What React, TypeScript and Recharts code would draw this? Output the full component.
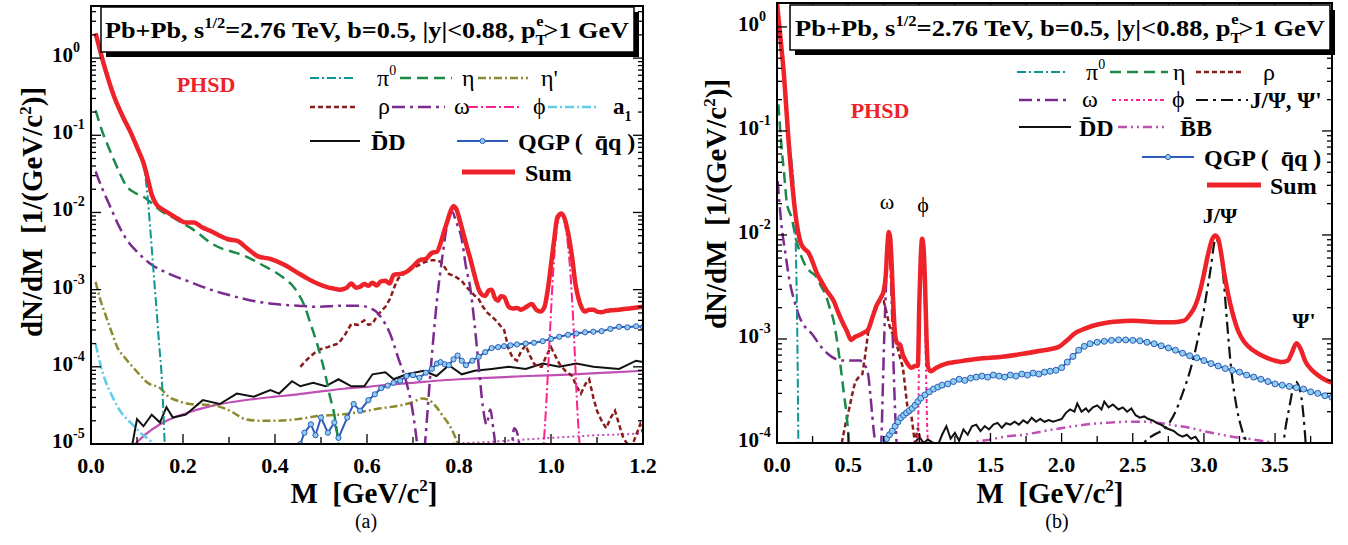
import { LineChart, Line, XAxis, YAxis } from 'recharts';

// ---------- panel (a): 0 - 1.2 GeV ----------
const sumA = [[0.01,2.1],[0.03,0.75],[0.05,0.32],[0.07,0.17],[0.086,0.11],[0.1,0.07],[0.114,0.044],[0.125,0.025],[0.132,0.017],[0.141,0.013],[0.155,0.011],[0.169,0.0098],[0.19,0.0082],[0.206,0.0074],[0.224,0.0074],[0.24,0.0065],[0.261,0.0057],[0.28,0.005],[0.298,0.0045],[0.317,0.0043],[0.34,0.0034],[0.363,0.0027],[0.39,0.0025],[0.42,0.0021],[0.446,0.0017],[0.47,0.0014],[0.492,0.0012],[0.515,0.00107],[0.529,0.00103],[0.54,0.001],[0.555,0.00105],[0.566,0.0012],[0.576,0.00106],[0.585,0.00109],[0.594,0.00118],[0.603,0.00112],[0.612,0.00123],[0.621,0.00113],[0.63,0.00128],[0.64,0.0013],[0.649,0.0012],[0.658,0.00155],[0.672,0.0016],[0.686,0.0017],[0.7,0.002],[0.714,0.0024],[0.728,0.0025],[0.741,0.003],[0.752,0.0031],[0.76,0.004],[0.768,0.0058],[0.775,0.0078],[0.782,0.0105],[0.788,0.012],[0.795,0.0108],[0.802,0.0078],[0.81,0.0052],[0.817,0.0036],[0.824,0.0026],[0.833,0.0016],[0.843,0.001],[0.851,0.00085],[0.857,0.00083],[0.865,0.00098],[0.871,0.001],[0.878,0.00078],[0.885,0.00072],[0.891,0.00082],[0.898,0.0008],[0.908,0.0006],[0.917,0.00057],[0.926,0.00058],[0.935,0.00055],[0.947,0.0006],[0.958,0.00065],[0.968,0.00055],[0.977,0.00052],[0.986,0.0006],[0.993,0.001],[1.0,0.0021],[1.007,0.0045],[1.014,0.0087],[1.023,0.0097],[1.03,0.0082],[1.037,0.0055],[1.046,0.0026],[1.053,0.0012],[1.06,0.00076],[1.067,0.00058],[1.074,0.00052],[1.083,0.00055],[1.092,0.00055],[1.1,0.00052],[1.11,0.00051],[1.12,0.00053],[1.13,0.00054],[1.148,0.00055],[1.17,0.00057],[1.2,0.0006]];
const pi0A = [[0.01,2.0],[0.03,0.7],[0.05,0.3],[0.07,0.16],[0.09,0.095],[0.105,0.06],[0.118,0.03],[0.124,0.014],[0.13,0.005],[0.136,0.0017],[0.142,0.0006],[0.148,0.0002],[0.154,7e-5],[0.159,1.5e-5],[0.162,5e-6]];
const etaA = [[0.01,0.21],[0.025,0.11],[0.04,0.066],[0.06,0.035],[0.077,0.022],[0.095,0.018],[0.114,0.016],[0.13,0.0135],[0.15,0.0107],[0.175,0.0088],[0.197,0.0074],[0.215,0.0064],[0.24,0.005],[0.261,0.004],[0.285,0.0034],[0.307,0.0031],[0.33,0.0028],[0.354,0.0024],[0.378,0.002],[0.4,0.0017],[0.42,0.0014],[0.437,0.00115],[0.45,0.0009],[0.464,0.00062],[0.478,0.00035],[0.492,0.000195],[0.51,7.6e-5],[0.52,4e-5],[0.529,2.4e-5],[0.538,1e-5],[0.545,4e-6]];
const etaPrimeA = [[0.01,0.00126],[0.02,0.00075],[0.03,0.0005],[0.045,0.00028],[0.058,0.000175],[0.072,0.000135],[0.086,0.000107],[0.105,8e-5],[0.123,6.2e-5],[0.15,5.3e-5],[0.169,4.1e-5],[0.19,3.6e-5],[0.215,3.3e-5],[0.261,3.2e-5],[0.29,2.9e-5],[0.307,2.6e-5],[0.335,2.1e-5],[0.37,2e-5],[0.4,2e-5],[0.45,2.1e-5],[0.492,2.3e-5],[0.54,2.4e-5],[0.585,2.6e-5],[0.63,2.9e-5],[0.677,3.2e-5],[0.7,3.5e-5],[0.72,3.9e-5],[0.735,3.7e-5],[0.751,3e-5],[0.765,2.3e-5],[0.778,1.8e-5],[0.79,1.3e-5],[0.797,1e-5],[0.805,6e-6]];
const rhoA = [[0.455,1e-4],[0.47,1.25e-4],[0.485,1.5e-4],[0.5,1.7e-4],[0.515,1.8e-4],[0.525,1.9e-4],[0.538,2e-4],[0.552,2.6e-4],[0.566,3.6e-4],[0.58,3.5e-4],[0.594,4e-4],[0.603,3.5e-4],[0.612,3.6e-4],[0.621,4.5e-4],[0.63,5.2e-4],[0.64,6e-4],[0.65,7.6e-4],[0.66,0.0011],[0.668,0.0014],[0.686,0.0017],[0.7,0.0019],[0.714,0.0021],[0.728,0.0023],[0.741,0.0024],[0.75,0.0024],[0.76,0.0023],[0.77,0.0019],[0.778,0.0016],[0.79,0.0015],[0.806,0.0013],[0.815,0.0011],[0.824,0.00097],[0.833,0.00085],[0.843,0.00075],[0.852,0.0006],[0.862,0.0005],[0.871,0.00045],[0.88,0.0004],[0.89,0.00034],[0.898,0.0003],[0.908,0.00017],[0.917,0.00013],[0.926,0.00012],[0.935,0.00016],[0.945,0.00019],[0.954,0.00014],[0.963,0.00011],[0.972,0.0001],[0.98,0.0001],[0.99,0.00014],[1.0,0.00018],[1.009,0.00014],[1.018,0.00011],[1.03,9e-5],[1.046,7.6e-5],[1.056,5.5e-5],[1.065,4.5e-5],[1.075,6e-5],[1.083,6.9e-5],[1.092,4e-5],[1.1,2.7e-5],[1.11,2e-5],[1.12,1.6e-5],[1.13,2.2e-5],[1.139,2.7e-5],[1.148,1.8e-5],[1.157,1.2e-5],[1.166,1e-5],[1.175,9e-6],[1.185,1.3e-5],[1.194,1.8e-5],[1.2,1.4e-5]];
const omegaContA = [[0.01,0.034],[0.025,0.02],[0.04,0.0126],[0.06,0.0068],[0.077,0.0045],[0.1,0.0031],[0.132,0.0021],[0.17,0.0016],[0.215,0.00126],[0.26,0.001],[0.307,0.00083],[0.35,0.00072],[0.4,0.00065],[0.45,0.00062],[0.492,0.0006],[0.54,0.00062],[0.585,0.00062],[0.605,0.00058],[0.62,0.00052],[0.635,0.0004],[0.65,0.00027],[0.668,0.00013],[0.686,6.2e-5],[0.7,2.5e-5],[0.709,1e-5],[0.716,4e-6]];
const omegaPeakA = [[0.72,4e-6],[0.726,1e-5],[0.739,1e-4],[0.752,7.2e-4],[0.765,0.003],[0.776,0.0078],[0.785,0.0102],[0.794,0.0075],[0.806,0.0045],[0.815,0.002],[0.824,0.0011],[0.834,3.5e-4],[0.843,1e-4],[0.852,3e-5],[0.86,1.8e-5],[0.868,2.8e-5],[0.875,1.5e-5],[0.885,6e-6],[0.91,5e-6],[0.92,1.6e-5],[0.928,1.3e-5],[0.935,5e-6]];
const phiA = [[0.975,4e-6],[0.984,1e-5],[0.992,6e-5],[0.998,3e-4],[1.005,0.0018],[1.011,0.005],[1.017,0.0085],[1.023,0.0095],[1.029,0.0078],[1.036,0.0042],[1.043,0.0014],[1.05,2.5e-4],[1.056,4e-5],[1.062,1e-5],[1.068,4e-6]];
const a1A = [[0.01,2e-4],[0.02,1.1e-4],[0.03,6.9e-5],[0.045,4.3e-5],[0.063,2.7e-5],[0.075,2.2e-5],[0.09,1.8e-5],[0.11,1.35e-5],[0.132,1.05e-5],[0.145,8e-6]];
const ddA = [[0.09,1e-5],[0.1,2.1e-5],[0.114,1.7e-5],[0.132,2.4e-5],[0.15,1.9e-5],[0.164,3e-5],[0.178,2.2e-5],[0.206,2.4e-5],[0.243,3.7e-5],[0.28,3.3e-5],[0.317,4.5e-5],[0.354,4.1e-5],[0.39,5e-5],[0.409,4.5e-5],[0.437,6.5e-5],[0.455,5.6e-5],[0.483,6.2e-5],[0.51,5.6e-5],[0.538,6.9e-5],[0.566,5.6e-5],[0.594,5.6e-5],[0.612,8e-5],[0.64,8.5e-5],[0.658,6.9e-5],[0.686,8e-5],[0.723,8.9e-5],[0.751,7.6e-5],[0.778,1.05e-4],[0.806,8e-5],[0.834,8.9e-5],[0.871,9.4e-5],[0.908,1e-4],[0.945,9.4e-5],[0.982,1.1e-4],[1.018,1e-4],[1.055,1.1e-4],[1.092,1e-4],[1.148,9.4e-5],[1.185,1.2e-4],[1.2,1.15e-4]];
const qgpA = [[0.455,1e-5],[0.464,1.4e-5],[0.478,1.8e-5],[0.488,1.3e-5],[0.5,2.2e-5],[0.515,1.4e-5],[0.529,1.9e-5],[0.538,1.2e-5],[0.557,2.2e-5],[0.571,3.3e-5],[0.585,2.7e-5],[0.603,3.7e-5],[0.617,4.4e-5],[0.631,5.3e-5],[0.645,5.7e-5],[0.658,6.2e-5],[0.672,6.6e-5],[0.686,7.6e-5],[0.7,7.8e-5],[0.714,7.2e-5],[0.728,8.4e-5],[0.741,9.4e-5],[0.752,1.1e-4],[0.76,1.15e-4],[0.769,1.08e-4],[0.778,1.05e-4],[0.788,1.25e-4],[0.797,1.4e-4],[0.806,1.2e-4],[0.815,1.05e-4],[0.829,1.2e-4],[0.843,1.35e-4],[0.857,1.55e-4],[0.871,1.75e-4],[0.885,1.8e-4],[0.898,1.85e-4],[0.912,1.9e-4],[0.926,1.95e-4],[0.945,2e-4],[0.963,2.05e-4],[0.982,2.15e-4],[1.0,2.3e-4],[1.018,2.45e-4],[1.037,2.6e-4],[1.055,2.7e-4],[1.074,2.8e-4],[1.092,2.85e-4],[1.11,2.9e-4],[1.129,3.1e-4],[1.148,3.3e-4],[1.166,3.25e-4],[1.185,3.35e-4],[1.2,3.3e-4]];
const magentaA = [[0.09,9e-6],[0.1,1.05e-5],[0.12,1.35e-5],[0.15,1.8e-5],[0.18,2.2e-5],[0.215,2.6e-5],[0.26,3.1e-5],[0.307,3.5e-5],[0.35,3.8e-5],[0.4,4.1e-5],[0.45,4.4e-5],[0.5,4.8e-5],[0.55,5.2e-5],[0.6,5.5e-5],[0.65,5.9e-5],[0.7,6.2e-5],[0.75,6.6e-5],[0.8,6.9e-5],[0.862,7.2e-5],[0.95,7.6e-5],[1.05,8e-5],[1.12,8.4e-5],[1.2,8.9e-5]];
const magentaDotA = [[0.7,8.5e-6],[0.75,9.8e-6],[0.8,1.02e-5],[0.85,1.05e-5],[0.9,1.1e-5],[0.95,1.15e-5],[1.0,1.2e-5],[1.05,1.25e-5],[1.1,1.3e-5],[1.15,1.33e-5],[1.2,1.37e-5]];

// ---------- panel (b): 0 - 3.9 GeV ----------
const sumB = [[0.0,1.7],[0.02,0.9],[0.05,0.33],[0.08,0.085],[0.11,0.028],[0.14,0.0125],[0.17,0.0082],[0.2,0.0072],[0.22,0.0068],[0.25,0.0055],[0.28,0.0043],[0.31,0.0036],[0.35,0.0029],[0.4,0.0023],[0.43,0.0018],[0.46,0.00145],[0.49,0.0012],[0.52,0.00098],[0.55,0.00105],[0.58,0.00109],[0.61,0.00115],[0.64,0.00123],[0.67,0.0016],[0.7,0.0021],[0.73,0.0025],[0.75,0.0029],[0.765,0.0042],[0.775,0.0075],[0.785,0.0107],[0.795,0.0095],[0.805,0.0055],[0.815,0.0025],[0.83,0.0011],[0.845,0.00091],[0.865,0.00088],[0.885,0.0007],[0.91,0.0006],[0.945,0.00053],[0.97,0.00055],[0.99,0.00055],[1.0,0.0022],[1.01,0.006],[1.02,0.0092],[1.03,0.0075],[1.04,0.0035],[1.05,0.0011],[1.06,0.00055],[1.08,0.00049],[1.12,0.00053],[1.19,0.00058],[1.25,0.0006],[1.32,0.00062],[1.43,0.00065],[1.5,0.00066],[1.6,0.00068],[1.73,0.00072],[1.85,0.00077],[1.98,0.00084],[2.03,0.00095],[2.1,0.00115],[2.16,0.00125],[2.22,0.00134],[2.28,0.0014],[2.34,0.00145],[2.42,0.00148],[2.49,0.0015],[2.57,0.00148],[2.64,0.00146],[2.72,0.00145],[2.79,0.00145],[2.86,0.0015],[2.9,0.0017],[2.94,0.0021],[2.97,0.0028],[3.0,0.0042],[3.03,0.0066],[3.06,0.0092],[3.08,0.0099],[3.1,0.0092],[3.12,0.0068],[3.14,0.0045],[3.17,0.0027],[3.2,0.0018],[3.24,0.0012],[3.28,0.00095],[3.32,0.00083],[3.4,0.0007],[3.48,0.00063],[3.55,0.0006],[3.59,0.00062],[3.62,0.00075],[3.65,0.00091],[3.68,0.0008],[3.71,0.00062],[3.76,0.0005],[3.81,0.00044],[3.86,0.0004],[3.9,0.00038]];
const pi0B = [[0.0,1.6],[0.02,0.8],[0.05,0.3],[0.08,0.1],[0.1,0.055],[0.12,0.025],[0.13,0.01],[0.138,0.003],[0.143,0.001],[0.147,0.0003],[0.15,1e-4],[0.153,3e-5]];
const etaB = [[0.01,0.18],[0.03,0.075],[0.05,0.039],[0.07,0.02],[0.1,0.015],[0.14,0.0085],[0.19,0.0054],[0.23,0.0045],[0.28,0.0039],[0.31,0.0032],[0.34,0.0027],[0.37,0.002],[0.4,0.00145],[0.42,0.001],[0.445,5.7e-4],[0.47,3e-4],[0.49,1.8e-4],[0.506,1e-4],[0.515,6e-5]];
const rhoB = [[0.455,1e-4],[0.48,1.5e-4],[0.506,2.1e-4],[0.53,3e-4],[0.55,3.9e-4],[0.575,4.3e-4],[0.6,4.6e-4],[0.62,7e-4],[0.64,0.00115],[0.67,0.0017],[0.7,0.0021],[0.725,0.0023],[0.75,0.0023],[0.77,0.0018],[0.79,0.00134],[0.815,0.0011],[0.84,9e-4],[0.86,7e-4],[0.885,5.3e-4],[0.9,3.5e-4],[0.915,2.3e-4],[0.93,2e-4],[0.945,1.8e-4],[0.958,1.3e-4],[0.97,1e-4],[0.98,1.2e-4],[0.99,1.4e-4],[1.0,1.2e-4],[1.01,1e-4],[1.02,8e-5]];
const omegaContB = [[0.005,0.033],[0.03,0.013],[0.06,0.0065],[0.09,0.0035],[0.127,0.0022],[0.16,0.0016],[0.19,0.00135],[0.25,0.0011],[0.31,0.00084],[0.38,0.00068],[0.46,0.00062],[0.52,0.00062],[0.58,0.00062],[0.61,0.00058],[0.64,0.00046],[0.655,0.0003],[0.67,0.00018],[0.68,0.00013],[0.69,1e-4],[0.7,6e-5]];
const omegaPeakB = [[0.72,5e-5],[0.733,1e-4],[0.745,4e-4],[0.755,0.0012],[0.765,0.003],[0.775,0.007],[0.783,0.0098],[0.79,0.008],[0.8,0.004],[0.81,0.0015],[0.82,5e-4],[0.83,2e-4],[0.84,1e-4],[0.85,5e-5]];
const phiB = [[0.98,5e-5],[0.99,1e-4],[0.997,5e-4],[1.005,0.003],[1.013,0.008],[1.02,0.0092],[1.028,0.007],[1.036,0.003],[1.045,7e-4],[1.055,1.5e-4],[1.06,1e-4],[1.065,5e-5]];
const jpsiB = [[2.55,7e-5],[2.58,1e-4],[2.65,1.2e-4],[2.73,1.4e-4],[2.8,2e-4],[2.85,3e-4],[2.9,4.8e-4],[2.94,7.8e-4],[2.97,1.2e-3],[2.99,1.6e-3],[3.02,2.8e-3],[3.05,5e-3],[3.07,8e-3],[3.08,9.2e-3],[3.1,8.5e-3],[3.12,6.2e-3],[3.14,3.5e-3],[3.16,1.6e-3],[3.19,5.4e-4],[3.23,2.2e-4],[3.27,1.3e-4],[3.3,1e-4],[3.34,5e-5],[3.45,1e-5],[3.52,2e-5],[3.56,1e-4],[3.6,2.2e-4],[3.645,3.9e-4],[3.68,3e-4],[3.7,1.8e-4],[3.715,1e-4],[3.73,5e-5]];
const ddB = [[0.95,8e-5],[0.98,1.05e-4],[1.0,1.15e-4],[1.03,1.0e-4],[1.06,1.08e-4],[1.1,1e-4],[1.13,9.5e-5],[1.16,1.2e-4],[1.19,1.45e-4],[1.22,1.1e-4],[1.25,1.25e-4],[1.28,1.05e-4],[1.31,1.35e-4],[1.34,1.2e-4],[1.37,1.45e-4],[1.4,1.5e-4],[1.43,1.3e-4],[1.46,1.45e-4],[1.49,1.35e-4],[1.52,1.5e-4],[1.55,1.56e-4],[1.58,1.4e-4],[1.61,1.55e-4],[1.64,1.5e-4],[1.67,1.6e-4],[1.7,1.5e-4],[1.73,1.65e-4],[1.76,1.55e-4],[1.79,1.75e-4],[1.82,1.6e-4],[1.85,1.7e-4],[1.88,1.6e-4],[1.91,1.66e-4],[1.94,1.6e-4],[1.97,1.65e-4],[2.0,1.7e-4],[2.03,1.95e-4],[2.06,2.1e-4],[2.09,2.0e-4],[2.11,2.4e-4],[2.14,2.0e-4],[2.17,2.15e-4],[2.19,2.0e-4],[2.22,2.2e-4],[2.25,2.3e-4],[2.28,2.1e-4],[2.3,2.5e-4],[2.33,2.2e-4],[2.36,2.35e-4],[2.4,2.1e-4],[2.43,2.2e-4],[2.46,2.0e-4],[2.49,2.15e-4],[2.52,1.85e-4],[2.55,1.75e-4],[2.58,1.8e-4],[2.61,1.7e-4],[2.64,1.65e-4],[2.67,1.55e-4],[2.7,1.5e-4],[2.73,1.4e-4],[2.76,1.35e-4],[2.79,1.3e-4],[2.82,1.2e-4],[2.85,1.15e-4],[2.88,1.2e-4],[2.91,1.1e-4],[2.94,1.15e-4],[2.97,1.0e-4],[3.0,8e-5]];
const bbB = [[1.3,8e-5],[1.37,1e-4],[1.5,1.08e-4],[1.6,1.15e-4],[1.73,1.2e-4],[1.9,1.32e-4],[2.04,1.42e-4],[2.2,1.52e-4],[2.34,1.57e-4],[2.46,1.6e-4],[2.58,1.6e-4],[2.7,1.55e-4],[2.79,1.48e-4],[2.9,1.4e-4],[3.0,1.3e-4],[3.1,1.22e-4],[3.2,1.15e-4],[3.31,1.1e-4],[3.4,1.05e-4],[3.49,1e-4],[3.56,9e-5]];
const qgpB = [[0.75,1e-4],[0.77,1.1e-4],[0.79,1.2e-4],[0.81,1.3e-4],[0.83,1.45e-4],[0.85,1.6e-4],[0.87,1.75e-4],[0.89,1.85e-4],[0.91,1.95e-4],[0.93,2.05e-4],[0.95,2.15e-4],[0.97,2.3e-4],[0.99,2.5e-4],[1.01,2.7e-4],[1.04,2.9e-4],[1.07,3.1e-4],[1.1,3.3e-4],[1.13,3.45e-4],[1.16,3.6e-4],[1.2,3.7e-4],[1.24,3.9e-4],[1.28,4.1e-4],[1.32,4.0e-4],[1.36,4.2e-4],[1.4,4.3e-4],[1.44,4.4e-4],[1.48,4.3e-4],[1.52,4.5e-4],[1.56,4.4e-4],[1.6,4.3e-4],[1.64,4.5e-4],[1.68,4.4e-4],[1.72,4.6e-4],[1.76,4.5e-4],[1.8,4.7e-4],[1.84,4.6e-4],[1.88,4.8e-4],[1.92,4.9e-4],[1.96,5.0e-4],[2.0,5.3e-4],[2.04,6.0e-4],[2.08,6.8e-4],[2.12,7.8e-4],[2.16,8.5e-4],[2.2,9.0e-4],[2.25,9.3e-4],[2.3,9.5e-4],[2.35,9.7e-4],[2.4,9.8e-4],[2.45,9.8e-4],[2.5,9.7e-4],[2.55,9.6e-4],[2.6,9.3e-4],[2.65,9.0e-4],[2.7,8.6e-4],[2.75,8.2e-4],[2.8,7.8e-4],[2.85,7.3e-4],[2.9,6.9e-4],[2.95,6.6e-4],[3.0,6.2e-4],[3.05,5.8e-4],[3.1,5.5e-4],[3.15,5.2e-4],[3.2,5.0e-4],[3.25,4.8e-4],[3.3,4.5e-4],[3.35,4.3e-4],[3.4,4.1e-4],[3.45,3.9e-4],[3.5,3.7e-4],[3.55,3.6e-4],[3.6,3.5e-4],[3.65,3.4e-4],[3.7,3.3e-4],[3.75,3.1e-4],[3.8,3e-4],[3.85,2.85e-4],[3.9,2.75e-4]];

// ticks
const xTicksA = [0, 0.1, 0.2, 0.3, 0.4, 0.5, 0.6, 0.7, 0.8, 0.9, 1.0, 1.1, 1.2];
const xLabelsA = [0, 0.2, 0.4, 0.6, 0.8, 1.0, 1.2];
const xTicksB = [0, 0.25, 0.5, 0.75, 1, 1.25, 1.5, 1.75, 2, 2.25, 2.5, 2.75, 3, 3.25, 3.5, 3.75];
const xLabelsB = [0, 0.5, 1, 1.5, 2, 2.5, 3, 3.5];
const decadesA = [-5, -4, -3, -2, -1, 0];
const decadesB = [-4, -3, -2, -1, 0];

const RED = '#ee2229';
const TEAL = '#0f9494';
const GREEN = '#1b8a48';
const OLIVE = '#8c8a2c';
const DARKRED = '#8b1c1c';
const PURPLE = '#7b2a8e';
const PINK = '#ff2090';
const CYAN = '#60cce6';
const BLUE = '#2f5cb8';
const DOTFILL = '#8ccdf0';
const MAGENTA = '#c04fb5';
const FONT = 'Liberation Serif, DejaVu Serif, serif';
const SP = '\u00A0';

const toPts = (arr: number[][]) => arr.map(([x, y]) => ({ x, y }));

const logTicks = (decades: number[], top: number) => {
  const out: number[] = [];
  decades.forEach((d) => {
    for (let k = 1; k <= 9; k++) {
      const v = k * Math.pow(10, d);
      if (v <= top) out.push(v);
    }
  });
  return out;
};

function makeYTick(left: number, right: number) {
  return (p: any) => {
    const v = p.payload.value;
    const y = p.y;
    const e = Math.log10(v);
    const k = Math.round(e);
    const major = Math.abs(e - k) < 1e-6;
    const len = major ? 10 : 5;
    return (
      <g>
        <line x1={left} x2={left + len} y1={y} y2={y} stroke="#000" strokeWidth={1.3} />
        <line x1={right - len} x2={right} y1={y} y2={y} stroke="#000" strokeWidth={1.3} />
        {major && (
          <text x={left - 39} y={y + 4} fontSize={21} fontWeight="bold" fontFamily={FONT} fill="#000">
            10<tspan dy={-10} fontSize={14}>{k}</tspan>
          </text>
        )}
      </g>
    );
  };
}

function makeXTick(top: number, bottom: number, labels: number[]) {
  return (p: any) => {
    const v = p.payload.value;
    const x = p.x;
    const major = labels.some((l) => Math.abs(l - v) < 1e-6);
    const len = major ? 10 : 7;
    return (
      <g>
        <line x1={x} x2={x} y1={bottom} y2={bottom - len} stroke="#000" strokeWidth={1.3} />
        <line x1={x} x2={x} y1={top} y2={top + len} stroke="#000" strokeWidth={1.3} />
        {major && (
          <text x={x} y={bottom + 29} textAnchor="middle" fontSize={22} fontWeight="bold" fontFamily={FONT} fill="#000">
            {v.toFixed(1)}
          </text>
        )}
      </g>
    );
  };
}

const qgpDotA = { r: 2.6, fill: DOTFILL, stroke: BLUE, strokeWidth: 1 };
const qgpDotB = { r: 3, fill: DOTFILL, stroke: BLUE, strokeWidth: 1 };

function Sample({ x1, x2, y, color, dash, w = 2.5, dot = false }: any) {
  return (
    <g>
      <line x1={x1} x2={x2} y1={y} y2={y} stroke={color} strokeWidth={w} strokeDasharray={dash} />
      {dot && <circle cx={(x1 + x2) / 2} cy={y} r={2.6} fill={DOTFILL} stroke={BLUE} strokeWidth={1} />}
    </g>
  );
}

function T({ x, y, children, size = 24, bold = true, anchor = 'start', fill = '#000' }: any) {
  return (
    <text x={x} y={y} fontSize={size} fontWeight={bold ? 'bold' : 'normal'} fontFamily={FONT} textAnchor={anchor} fill={fill}>
      {children}
    </text>
  );
}

function TitleBox({ x, y, w, h, tx, ty, tl }: any) {
  return (
    <g>
      <rect x={x + 5} y={y + 5} width={w} height={h} fill="#000" />
      <rect x={x} y={y} width={w} height={h} fill="#fff" stroke="#000" strokeWidth={1.5} />
      <text x={tx} y={ty} fontSize={24} fontWeight="bold" fontFamily={FONT} textLength={tl} lengthAdjust="spacingAndGlyphs">
        Pb+Pb, s<tspan dy={-10} fontSize={15}>1/2</tspan>
        <tspan dy={10} fontSize={24}>=2.76 TeV, b=0.5, |y|&lt;0.88, p</tspan>
        <tspan dy={7} fontSize={15}>T</tspan>
        <tspan dx={-8} dy={-19} fontSize={15}>e</tspan>
        <tspan dy={12} fontSize={24}>&gt;1 GeV</tspan>
      </text>
    </g>
  );
}

const yTitle = `dN/dM${SP}${SP}[1/(GeV/c`;
const xTitle = `M${SP}${SP}[GeV/c`;
const qgpLabel = `QGP (${SP}${SP}q̄q )`;

const topA = Math.pow(10, 0.675);
const topB = Math.pow(10, 0.23);

export default function App() {
  const yTicksA = logTicks(decadesA, topA);
  const yTicksB = logTicks(decadesB, topB);
  return (
    <div style={{ position: 'absolute', left: 0, top: 0, width: 1348, height: 545, background: '#fff', fontFamily: FONT }}>
      <div style={{ position: 'absolute', left: 0, top: 0 }}>
        <LineChart width={660} height={545} margin={{ top: 6, right: 17, bottom: 0, left: 0 }}>
          <XAxis type="number" dataKey="x" domain={[0, 1.2]} ticks={xTicksA} interval={0} allowDataOverflow height={101}
            axisLine={false} tickLine={false} tick={makeXTick(6, 444, xLabelsA)} />
          <YAxis type="number" scale="log" domain={[1e-5, topA]} ticks={yTicksA} interval={0} allowDataOverflow width={91}
            axisLine={false} tickLine={false} tick={makeYTick(91, 643)} />
          <Line data={toPts(magentaDotA)} dataKey="y" type="monotone" stroke={MAGENTA} strokeWidth={2} strokeDasharray="2 3" dot={false} isAnimationActive={false} />
          <Line data={toPts(magentaA)} dataKey="y" type="monotone" stroke={MAGENTA} strokeWidth={2.2} dot={false} isAnimationActive={false} />
          <Line data={toPts(a1A)} dataKey="y" type="monotone" stroke={CYAN} strokeWidth={2.5} strokeDasharray="9 3 2 3" dot={false} isAnimationActive={false} />
          <Line data={toPts(etaPrimeA)} dataKey="y" type="monotone" stroke={OLIVE} strokeWidth={2.5} strokeDasharray="8 3 2 3" dot={false} isAnimationActive={false} />
          <Line data={toPts(ddA)} dataKey="y" type="linear" stroke="#111" strokeWidth={2} dot={false} isAnimationActive={false} />
          <Line data={toPts(qgpA)} dataKey="y" type="linear" stroke={BLUE} strokeWidth={2} dot={qgpDotA} isAnimationActive={false} />
          <Line data={toPts(rhoA)} dataKey="y" type="linear" stroke={DARKRED} strokeWidth={2.5} strokeDasharray="5 3" dot={false} isAnimationActive={false} />
          <Line data={toPts(phiA)} dataKey="y" type="monotone" stroke={PINK} strokeWidth={2} strokeDasharray="10 3 2 3" dot={false} isAnimationActive={false} />
          <Line data={toPts(omegaContA)} dataKey="y" type="monotone" stroke={PURPLE} strokeWidth={2.5} strokeDasharray="13 5 3 5" dot={false} isAnimationActive={false} />
          <Line data={toPts(omegaPeakA)} dataKey="y" type="monotone" stroke={PURPLE} strokeWidth={2.5} strokeDasharray="13 5 3 5" dot={false} isAnimationActive={false} />
          <Line data={toPts(etaA)} dataKey="y" type="monotone" stroke={GREEN} strokeWidth={2.5} strokeDasharray="11 6" dot={false} isAnimationActive={false} />
          <Line data={toPts(pi0A)} dataKey="y" type="monotone" stroke={TEAL} strokeWidth={2} strokeDasharray="9 3 2 3" dot={false} isAnimationActive={false} />
          <Line data={toPts(sumA)} dataKey="y" type="monotone" stroke={RED} strokeWidth={4.5} dot={false} isAnimationActive={false} />
        </LineChart>
      </div>
      <div style={{ position: 'absolute', left: 686, top: 0 }}>
        <LineChart width={662} height={545} margin={{ top: 3, right: 16, bottom: 0, left: 0 }}>
          <XAxis type="number" dataKey="x" domain={[0, 3.9]} ticks={xTicksB} interval={0} allowDataOverflow height={102}
            axisLine={false} tickLine={false} tick={makeXTick(3, 443, xLabelsB)} />
          <YAxis type="number" scale="log" domain={[1e-4, topB]} ticks={yTicksB} interval={0} allowDataOverflow width={91}
            axisLine={false} tickLine={false} tick={makeYTick(91, 646)} />
          <Line data={toPts(bbB)} dataKey="y" type="monotone" stroke={MAGENTA} strokeWidth={2.5} strokeDasharray="9 4 2 4 2 4" dot={false} isAnimationActive={false} />
          <Line data={toPts(ddB)} dataKey="y" type="linear" stroke="#111" strokeWidth={2} dot={false} isAnimationActive={false} />
          <Line data={toPts(qgpB)} dataKey="y" type="linear" stroke={BLUE} strokeWidth={2} dot={qgpDotB} isAnimationActive={false} />
          <Line data={toPts(jpsiB)} dataKey="y" type="monotone" stroke="#111" strokeWidth={2.2} strokeDasharray="12 5 3 5" dot={false} isAnimationActive={false} />
          <Line data={toPts(rhoB)} dataKey="y" type="linear" stroke={DARKRED} strokeWidth={2.5} strokeDasharray="5 3" dot={false} isAnimationActive={false} />
          <Line data={toPts(phiB)} dataKey="y" type="monotone" stroke={PINK} strokeWidth={2} strokeDasharray="4 3 2 3" dot={false} isAnimationActive={false} />
          <Line data={toPts(omegaContB)} dataKey="y" type="monotone" stroke={PURPLE} strokeWidth={2.5} strokeDasharray="13 5 3 5" dot={false} isAnimationActive={false} />
          <Line data={toPts(omegaPeakB)} dataKey="y" type="monotone" stroke={PURPLE} strokeWidth={2.5} strokeDasharray="13 5 3 5" dot={false} isAnimationActive={false} />
          <Line data={toPts(etaB)} dataKey="y" type="monotone" stroke={GREEN} strokeWidth={2.5} strokeDasharray="11 6" dot={false} isAnimationActive={false} />
          <Line data={toPts(pi0B)} dataKey="y" type="monotone" stroke={TEAL} strokeWidth={2} strokeDasharray="9 3 2 3" dot={false} isAnimationActive={false} />
          <Line data={toPts(sumB)} dataKey="y" type="monotone" stroke={RED} strokeWidth={4.5} dot={false} isAnimationActive={false} />
        </LineChart>
      </div>

      <svg width={1348} height={545} style={{ position: 'absolute', left: 0, top: 0, pointerEvents: 'none' }}>
        {/* frames */}
        <rect x={91} y={6} width={552} height={438} fill="none" stroke="#000" strokeWidth={2} />
        <rect x={777} y={3} width={555} height={440} fill="none" stroke="#000" strokeWidth={2} />

        {/* axis titles */}
        <text transform="translate(42,212) rotate(-90)" textAnchor="middle" fontSize={29} fontWeight="bold" fontFamily={FONT}>
          {yTitle}<tspan dy={-11} fontSize={17}>2</tspan><tspan dy={11}>)]</tspan>
        </text>
        <text transform="translate(726,204) rotate(-90)" textAnchor="middle" fontSize={29} fontWeight="bold" fontFamily={FONT}>
          {yTitle}<tspan dy={-11} fontSize={17}>2</tspan><tspan dy={11}>)]</tspan>
        </text>
        <text x={364} y={503} textAnchor="middle" fontSize={29} fontWeight="bold" fontFamily={FONT}>
          {xTitle}<tspan dy={-12} fontSize={17}>2</tspan><tspan dy={12}>]</tspan>
        </text>
        <text x={1050} y={503} textAnchor="middle" fontSize={29} fontWeight="bold" fontFamily={FONT}>
          {xTitle}<tspan dy={-12} fontSize={17}>2</tspan><tspan dy={12}>]</tspan>
        </text>
        <T x={366} y={528} size={20} bold={false} anchor="middle">(a)</T>
        <T x={1057} y={528} size={20} bold={false} anchor="middle">(b)</T>

        {/* title boxes */}
        <TitleBox x={101} y={7} w={533} h={45} tx={105} ty={38} tl={524} />
        <TitleBox x={790} y={5} w={540} h={45} tx={795} ty={36} tl={530} />

        {/* panel a legend */}
        <T x={206} y={92} size={22} anchor="middle" fill={RED}>PHSD</T>
        <Sample x1={310} x2={356} y={78} color={TEAL} dash="9 3 2 3" w={2} />
        <T x={377} y={86} bold={false}>π<tspan dy={-11} fontSize={14}>0</tspan></T>
        <Sample x1={400} x2={452} y={78} color={GREEN} dash="11 6" />
        <T x={462} y={86} bold={false}>η</T>
        <Sample x1={478} x2={528} y={78} color={OLIVE} dash="8 3 2 3" />
        <T x={541} y={86} bold={false}>η'</T>
        <Sample x1={310} x2={358} y={107} color={DARKRED} dash="5 3" />
        <T x={378} y={114} bold={false}>ρ</T>
        <Sample x1={392} x2={445} y={107} color={PURPLE} dash="13 5 3 5" />
        <T x={454} y={114} bold={false}>ω</T>
        <Sample x1={468} x2={522} y={107} color={PINK} dash="10 3 2 3" w={2} />
        <T x={533} y={114} bold={false}>ϕ</T>
        <Sample x1={548} x2={598} y={107} color={CYAN} dash="9 3 2 3" />
        <T x={613} y={114} size={23}>a<tspan dy={7} fontSize={14}>1</tspan></T>
        <Sample x1={310} x2={360} y={141} color="#111" w={2.2} />
        <T x={371} y={150}>D̄D</T>
        <Sample x1={457} x2={508} y={141} color={BLUE} w={2} dot />
        <T x={518} y={150}>{qgpLabel}</T>
        <Sample x1={462} x2={515} y={172} color={RED} w={5} />
        <T x={525} y={181}>Sum</T>

        {/* panel b legend */}
        <T x={880} y={118} size={22} anchor="middle" fill={RED}>PHSD</T>
        <Sample x1={1017} x2={1067} y={72} color={TEAL} dash="9 3 2 3" w={2} />
        <T x={1086} y={80} bold={false}>π<tspan dy={-11} fontSize={14}>0</tspan></T>
        <Sample x1={1110} x2={1168} y={72} color={GREEN} dash="11 6" />
        <T x={1173} y={80} bold={false}>η</T>
        <Sample x1={1196} x2={1244} y={72} color={DARKRED} dash="5 3" />
        <T x={1263} y={80} bold={false}>ρ</T>
        <Sample x1={1019} x2={1071} y={100} color={PURPLE} dash="13 5 3 5" />
        <T x={1082} y={107} bold={false}>ω</T>
        <Sample x1={1112} x2={1164} y={100} color={PINK} dash="4 3 2 3" w={2} />
        <T x={1172} y={107} bold={false}>ϕ</T>
        <Sample x1={1196} x2={1248} y={100} color="#111" dash="12 5 3 5" w={2.2} />
        <T x={1250} y={108} size={23}>J/Ψ, Ψ'</T>
        <Sample x1={1019} x2={1071} y={127} color="#111" w={2.2} />
        <T x={1079} y={136}>D̄D</T>
        <Sample x1={1118} x2={1166} y={127} color={MAGENTA} dash="9 4 2 4 2 4" />
        <T x={1180} y={136}>B̄B</T>
        <Sample x1={1142} x2={1194} y={157} color={BLUE} w={2} dot />
        <T x={1204} y={166}>{qgpLabel}</T>
        <Sample x1={1207} x2={1261} y={185} color={RED} w={5} />
        <T x={1270} y={194}>Sum</T>

        {/* peak labels */}
        <T x={887} y={209} size={22} bold={false} anchor="middle">ω</T>
        <T x={923} y={212} size={22} bold={false} anchor="middle">ϕ</T>
        <T x={1220} y={223} size={22} anchor="middle">J/Ψ</T>
        <T x={1304} y={328} size={22} anchor="middle">Ψ'</T>
      </svg>
    </div>
  );
}
